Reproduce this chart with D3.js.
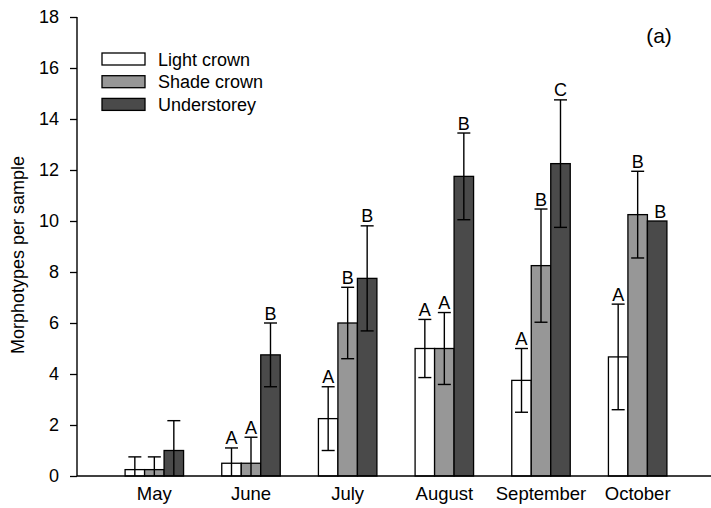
<!DOCTYPE html>
<html><head><meta charset="utf-8">
<script src="https://cdn.jsdelivr.net/npm/d3@7"></script>
<style>body{margin:0;background:#fff}svg{display:block}text{font-family:"Liberation Sans",Arial,sans-serif;fill:#000}</style>
</head><body><svg id="c" width="711" height="508"></svg>
<script>
const months = ["May","June","July","August","September","October"];
const series = ["Light crown","Shade crown","Understorey"];
const colors = ["#ffffff","#979797","#4a4a4a"];
const lightMean = [0.25,0.5,2.25,5.0,3.75,4.67];
const lightErr  = [0.5,0.6,1.25,1.14,1.25,2.07];
const shadeMean = [0.25,0.5,6.0,5.0,8.25,10.25];
const shadeErr  = [0.5,1.02,1.4,1.41,2.22,1.7];
const underMean = [1.0,4.75,7.75,11.75,12.25,10.0];
const underErr  = [1.17,1.25,2.06,1.7,2.5,0];
const lightLetters = ["","A","A","A","A","A"];
const shadeLetters = ["","A","B","A","B","B"];
const underLetters = ["","B","B","B","C","B"];
const yTicks = [0,2,4,6,8,10,12,14,16,18];

const means=[lightMean,shadeMean,underMean], errs=[lightErr,shadeErr,underErr], letters=[lightLetters,shadeLetters,underLetters];
const svg=d3.select("#c");
const y=d3.scaleLinear().domain([0,18]).range([476,17]);
const x0=d3.scaleBand().domain(months).range([106,686]).paddingInner(0.395).paddingOuter(0.1975);
const x1=d3.scaleBand().domain(series).range([0,x0.bandwidth()]);

const data=[];
months.forEach((m,i)=>series.forEach((s,j)=>data.push({m,s,j,v:means[j][i],e:errs[j][i],l:letters[j][i]})));

const g=svg.append("g");
g.selectAll("rect.bar").data(data).join("rect").attr("class","bar")
 .attr("x",d=>x0(d.m)+x1(d.s)).attr("width",x1.bandwidth())
 .attr("y",d=>y(d.v)).attr("height",d=>y(0)-y(d.v))
 .attr("fill",d=>colors[d.j]).attr("stroke","#000").attr("stroke-width",1.3);

const cw=6.5;
const eb=g.selectAll("g.err").data(data.filter(d=>d.e>0)).join("g").attr("class","err")
 .attr("stroke","#000").attr("stroke-width",1.4);
eb.each(function(d){
  const cx=x0(d.m)+x1(d.s)+x1.bandwidth()/2;
  const hi=d.v+d.e, lo=d.v-d.e;
  const s=d3.select(this);
  s.append("line").attr("x1",cx).attr("x2",cx).attr("y1",y(hi)).attr("y2",y(Math.max(lo,0)));
  s.append("line").attr("x1",cx-cw).attr("x2",cx+cw).attr("y1",y(hi)).attr("y2",y(hi));
  if(lo>0) s.append("line").attr("x1",cx-cw).attr("x2",cx+cw).attr("y1",y(lo)).attr("y2",y(lo));
});

g.selectAll("text.let").data(data.filter(d=>d.l)).join("text").attr("class","let")
 .attr("x",d=>x0(d.m)+x1(d.s)+x1.bandwidth()/2+(d.e>0?0:3))
 .attr("y",d=>y(d.v+d.e)-3.5).attr("text-anchor","middle").attr("font-size",18).text(d=>d.l);

// axes
const ya=svg.append("g").attr("transform","translate(77,0)")
 .call(d3.axisLeft(y).tickValues(yTicks).tickSize(7).tickPadding(11).tickSizeOuter(0));
ya.select(".domain").attr("stroke","#000").attr("stroke-width",1.4).attr("d","M0,17V476");
ya.selectAll(".tick line").attr("stroke","#000").attr("stroke-width",1.3);
ya.selectAll(".tick text").attr("font-size",18).attr("font-family","Liberation Sans, Arial, sans-serif");

const xa=svg.append("g").attr("transform","translate(0,476)")
 .call(d3.axisBottom(x0).tickSize(0).tickPadding(11));
xa.select(".domain").attr("stroke","#000").attr("stroke-width",1.4).attr("d","M77,0H711");
xa.selectAll(".tick text").attr("font-size",18.5).attr("font-family","Liberation Sans, Arial, sans-serif");

svg.append("text").attr("transform","translate(24,255) rotate(-90)").attr("text-anchor","middle")
 .attr("font-size",18).text("Morphotypes per sample");

svg.append("text").attr("x",659).attr("y",43).attr("text-anchor","middle").attr("font-size",21).text("(a)");

const lg=svg.append("g");
series.forEach((s,j)=>{
  const yy=53+j*22.7;
  lg.append("rect").attr("x",102).attr("y",yy).attr("width",43).attr("height",12)
    .attr("fill",colors[j]).attr("stroke","#000").attr("stroke-width",1.3);
  lg.append("text").attr("x",158).attr("y",yy+12.5).attr("font-size",18).text(s);
});
</script></body></html>
